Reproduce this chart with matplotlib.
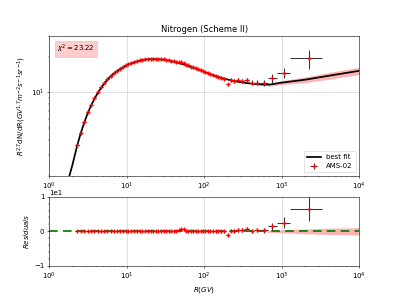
import matplotlib
matplotlib.use('Agg')
import matplotlib.pyplot as plt
import numpy as np
from matplotlib.ticker import MultipleLocator, AutoMinorLocator

# AMS-02 nitrogen, rigidity bins (GV) and R^2.7 * flux
bin_edges = [2.15, 2.40, 2.67, 2.97, 3.29, 3.64, 4.02, 4.43, 4.88, 5.37, 5.90,
             6.47, 7.09, 7.76, 8.48, 9.26, 10.1, 11.0, 12.0, 13.0, 14.1, 15.3,
             16.6, 18.0, 19.5, 21.1, 22.8, 24.7, 26.7, 28.8, 31.1, 33.5, 36.1,
             38.9, 41.9, 45.1, 48.5, 52.2, 56.1, 60.3, 64.8, 69.7, 74.9, 80.5,
             86.5, 93.0, 100, 108, 116, 125, 135, 147, 160, 175, 192, 211, 233,
             259, 291, 330, 379, 441, 525, 660, 880, 1300, 3300]
rig = [2.27, 2.53, 2.82, 3.13, 3.46, 3.83, 4.22, 4.65, 5.12, 5.63, 6.18, 6.77,
       7.42, 8.11, 8.86, 9.67, 10.5, 11.5, 12.5, 13.5, 14.7, 15.9, 17.3, 18.7,
       20.3, 21.9, 23.7, 25.7, 27.7, 29.9, 32.3, 34.8, 37.5, 40.4, 43.5, 46.8,
       50.3, 54.1, 58.2, 62.5, 67.2, 72.3, 77.6, 83.4, 89.7, 96.4, 104, 112,
       120, 130, 141, 153, 167, 183, 201, 222, 246, 275, 310, 354, 409, 481,
       589, 762, 1070, 2264]
flux = [3.6, 4.6, 5.65, 6.8, 7.85, 8.95, 10.05, 11.05, 12.05, 12.95, 13.85, 14.55,
        15.25, 15.85, 16.45, 16.95, 17.35, 17.75, 18.05, 18.35, 18.65, 18.85,
        18.95, 19.15, 19.15, 19.25, 19.15, 19.05, 19.05, 18.95, 18.75, 18.65,
        18.45, 18.3, 18.15, 18.1, 18.2, 17.8, 17.1, 16.9, 16.5, 16.3, 16.0, 15.7,
        15.45, 15.1, 14.85, 14.55, 14.35, 14.05, 13.75, 13.55, 13.25, 13.1, 11.7,
        12.8, 12.6, 12.7, 12.5, 12.8, 12.1, 12.1, 11.95, 13.2, 14.7, 19.4]
flux_err = [0.08, 0.08, 0.09, 0.09, 0.1, 0.1, 0.1, 0.11, 0.11, 0.12, 0.12, 0.12,
            0.13, 0.13, 0.13, 0.14, 0.14, 0.14, 0.15, 0.15, 0.15, 0.16, 0.16, 0.16,
            0.17, 0.17, 0.17, 0.18, 0.18, 0.18, 0.19, 0.19, 0.2, 0.2, 0.21, 0.21,
            0.22, 0.22, 0.23, 0.23, 0.24, 0.25, 0.25, 0.26, 0.27, 0.28, 0.3, 0.3,
            0.32, 0.33, 0.35, 0.36, 0.38, 0.4, 0.42, 0.45, 0.48, 0.5, 0.52, 0.55,
            0.58, 0.62, 0.7, 1.1, 1.5, 3.5]

# best fit curve (Scheme II)
fit_R = [1.6, 1.8, 2.0, 2.27, 2.53, 2.82, 3.13, 3.46, 3.83, 4.22, 4.65, 5.12,
         5.63, 6.18, 6.77, 7.42, 8.11, 9.67, 11.5, 13.5, 15.9, 18.7, 21.9, 25.7,
         29.9, 34.8, 40.4, 46.8, 54.1, 62.5, 72.3, 83.4, 96.4, 112, 130, 153,
         183, 222, 275, 354, 481, 589, 700, 1000, 2000, 4000, 10000]
fit_flux = [1.5, 1.95, 2.5, 3.5, 4.5, 5.55, 6.7, 7.75, 8.85, 9.9, 10.9, 11.9,
            12.8, 13.7, 14.4, 15.1, 15.7, 16.8, 17.6, 18.2, 18.7, 19.0, 19.1,
            19.0, 18.85, 18.55, 18.15, 17.7, 17.2, 16.7, 16.1, 15.6, 15.05, 14.5,
            14.0, 13.5, 13.05, 12.65, 12.3, 12.0, 11.75, 11.65, 11.65, 12.1,
            12.8, 13.8, 15.2]
band_start = 481
band_width = [0.02, 0.15, 0.3, 0.45, 0.7, 0.9, 1.05]

chi2 = 23.22

rig = np.array(rig)
flux = np.array(flux)
edges = np.array(bin_edges)
xerr = [rig - edges[:-1], edges[1:] - rig]
fit_R = np.array(fit_R)
fit_flux = np.array(fit_flux)
fit_at_data = np.interp(np.log(rig), np.log(fit_R), fit_flux)
resid = flux - fit_at_data

sel = fit_R >= band_start
bR = fit_R[sel]
bw = np.array(band_width)

err_kw = dict(fmt='+', color='red', ecolor='#333333', elinewidth=1.5,
              markersize=6, markeredgewidth=2, zorder=5)

fig = plt.figure(figsize=(7.98, 5.98), dpi=50)
ax1 = fig.add_axes([0.1236, 0.4124, 0.7762, 0.4682])
ax2 = fig.add_axes([0.1236, 0.1104, 0.7762, 0.2318])

ax1.fill_between(bR, fit_flux[sel] - bw, fit_flux[sel] + bw, color='red',
                 alpha=0.3, lw=0)
ax1.plot(fit_R, fit_flux, color='k', lw=2.5, label='best fit')
ax1.errorbar(rig, flux, xerr=xerr, yerr=flux_err, label='AMS-02', **err_kw)
ax1.set_xscale('log')
ax1.set_yscale('log')
ax1.set_xlim(1, 1e4)
ax1.set_ylim(2, 30)
ax1.grid(True, which='major', color='#c8c8c8')
ax1.set_title('Nitrogen (Scheme II)', fontsize=12)
ax1.set_ylabel(r'$R^{2.7}$dN/dR$(GV^{1.7}m^{-2}s^{-1}sr^{-1})$', fontsize=10)
ax1.text(0.025, 0.95, r'$\chi^2 = %.2f$' % chi2, transform=ax1.transAxes,
         va='top', ha='left', fontsize=10,
         bbox=dict(boxstyle='square', facecolor='red', edgecolor='red', alpha=0.2))
ax1.legend(loc='lower right', fontsize=10)

ax2.fill_between(bR, -bw, bw, color='red', alpha=0.3, lw=0)
ax2.axhline(0, color='green', ls='--', lw=2.5, dashes=(5, 3))
ax2.errorbar(rig, resid, xerr=xerr, yerr=flux_err, **err_kw)
ax2.set_xscale('log')
ax2.set_xlim(1, 1e4)
ax2.set_ylim(-10, 10)
ax2.yaxis.set_major_locator(MultipleLocator(10))
ax2.yaxis.set_minor_locator(AutoMinorLocator(5))
ax2.ticklabel_format(axis='y', style='sci', scilimits=(0, 0))
ax2.grid(True, which='major', axis='x', color='#c8c8c8')
ax2.set_ylabel(r'$Residuals$', fontsize=10)
ax2.set_xlabel(r'$R(GV)$', fontsize=10)

fig.savefig('out.png', dpi=50)
